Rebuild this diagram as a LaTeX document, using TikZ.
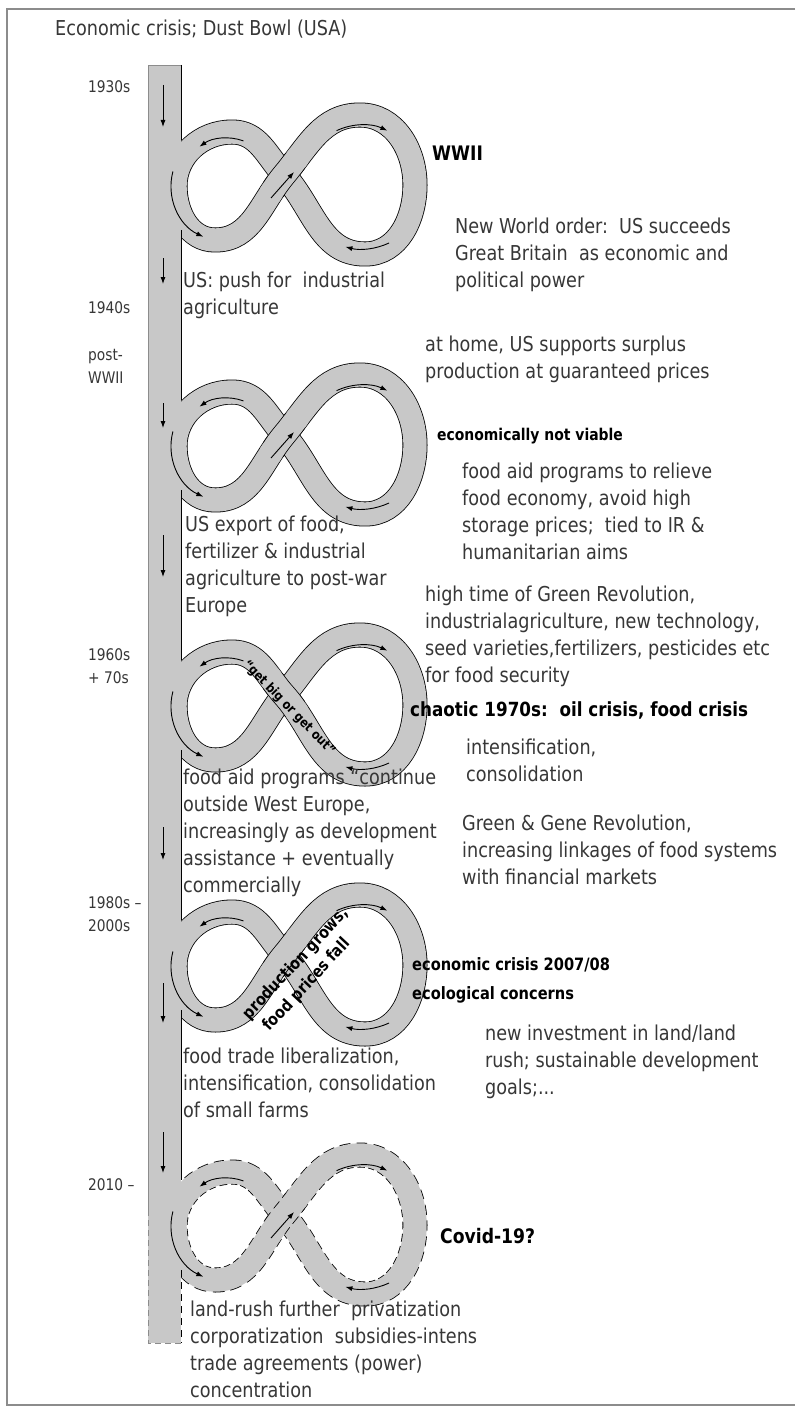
\documentclass[tikz,border=0pt]{standalone}
\usepackage{fontspec}
\setmainfont{DejaVu Sans}[FakeStretch=0.86]
\usetikzlibrary{arrows.meta}
\definecolor{bandgray}{RGB}{200,200,200}
\definecolor{framegray}{RGB}{140,140,140}
\definecolor{inkgray}{RGB}{55,55,55}

\tikzset{
  bandline/.style={line width=25pt, draw=black, line join=round},
  bandcore/.style={line width=23.4pt, draw=bandgray, line join=round},
  flow/.style={line width=0.9pt, -{Latex[length=7pt,width=5pt]}},
  eightpath/.style={insert path={
    (C) to[out=50,in=180] (RT) to[out=0,in=90] (RR) to[out=-90,in=0] (RB)
    to[out=180,in=-48] (C) to[out=132,in=0] (LT) to[out=180,in=90] (LL)
    to[out=-90,in=180] (LB) to[out=0,in=230] (C) -- cycle}},
  upstrand/.style={insert path={(LB) to[out=0,in=230] (C) to[out=50,in=180] (RT)}},
  downstrand/.style={insert path={(RB) to[out=180,in=-48] (C) to[out=132,in=0] (LT)}},
  txt/.style={anchor=base west, inner sep=0pt, align=left, text=inkgray,
    font=\fontsize{20.5}{27}\selectfont},
  yr/.style={anchor=base west, inner sep=0pt, align=left, text=inkgray,
    font=\fontsize{16}{23}\selectfont},
  hd/.style={anchor=base west, inner sep=0pt, align=left, text=black,
    font=\fontsize{17}{29}\selectfont\bfseries},
  inband/.style={inner sep=0pt, text=black, font=\fontsize{13}{15}\selectfont\bfseries},
  barline/.style={line width=1pt, draw=black},
}

% one figure eight: #1 vertical shift, #2 strand on top (up/down), #3 outline options
\newcommand{\figeight}[3]{%
  \begin{scope}[yshift=#1]
    \coordinate (C)  at (284,-175);
    \coordinate (RT) at (360,-115);
    \coordinate (RR) at (415,-185);
    \coordinate (RB) at (365,-254);
    \coordinate (LT) at (232,-132);
    \coordinate (LL) at (175,-186);
    \coordinate (LB) at (215,-240);
    \draw[bandline, #3, eightpath];
    \draw[bandcore, eightpath];
    \begin{scope}
      \clip (C) circle[radius=22];
      \draw[bandline, #3, #2strand];
    \end{scope}
    \begin{scope}
      \clip (C) circle[radius=27];
      \draw[bandcore, #2strand];
    \end{scope}
  \end{scope}}

% flow arrows running round the two lobes of a figure eight
\newcommand{\lobearrows}[1]{%
  \begin{scope}[yshift=#1]
    \coordinate (L) at (227,-186);
    \coordinate (R) at (362,-185);
    \draw[flow] ([shift={(70:48)}]L) arc[start angle=70,end angle=125,radius=48];
    \draw[flow] ([shift={(165:56)}]L) arc[start angle=165,end angle=245,radius=56];
    \draw[flow] ([shift={(115:60)}]R) arc[start angle=115,end angle=65,radius=60];
    \draw[flow] ([shift={(295:64)}]R) arc[start angle=295,end angle=255,radius=64];
  \end{scope}}

\begin{document}
\begin{tikzpicture}[x=1pt,y=1pt]
\useasboundingbox (0,0) rectangle (795,-1407);
\fill[white] (0,0) rectangle (795,-1407);

% frame
\draw[framegray, line width=1.5pt] (795,-9) -- (7,-9) -- (7,-1405) -- (795,-1405);

% figure eights, one per period
\figeight{0pt}{up}{solid}
\figeight{-260pt}{up}{solid}
\figeight{-520pt}{down}{solid}
\figeight{-780pt}{up}{solid}
\figeight{-1040pt}{up}{dash pattern=on 9pt off 5pt}

% time bar
\fill[bandgray] (148,-65) rectangle (181,-1343);
\draw[framegray, line width=0.6pt] (148,-1210) -- (148,-65) -- (181,-65);
\draw[framegray, line width=0.8pt, dash pattern=on 6pt off 4pt]
  (148,-1210) -- (148,-1343) -- (181,-1343);
\draw[barline] (181,-65) -- (181,-140);
\draw[barline] (181,-230) -- (181,-400);
\draw[barline] (181,-490) -- (181,-660);
\draw[barline] (181,-750) -- (181,-920);
\draw[barline] (181,-1010) -- (181,-1180);
\draw[barline, dash pattern=on 7pt off 5pt] (181,-1270) -- (181,-1343);

% downward arrows inside the bar
\foreach \a/\b in {85/127, 258/284, 403/428, 535/577, 827/860, 983/1023, 1132/1173}
  \draw[flow] (163,-\a) -- (163,-\b);

% arrows round the eights
\lobearrows{0pt}
\lobearrows{-260pt}
\lobearrows{-520pt}
\lobearrows{-780pt}
\lobearrows{-1040pt}
\foreach \k in {0,1,4} {
  \begin{scope}[yshift=-260*\k pt]
    \draw[flow] (271,-198) -- (294,-172);
  \end{scope}
}

% labels along the crossing strands
\node[inband, rotate=-46] (getbig) at (289,-708) {“get big or get out”};
\node[inband, rotate=47, font=\fontsize{16.5}{18}\selectfont\bfseries] (prodgrows) at (296,-964) {production grows,};
\node[inband, rotate=47, font=\fontsize{16.5}{18}\selectfont\bfseries] (pricesfall) at (307,-985) {food prices fall};

% period labels
\node[txt] (title) at (55,-36) {Economic crisis; Dust Bowl (USA)};
\node[yr] (y1930) at (88,-93) {1930s};
\node[yr] (y1940) at (88,-313) {1940s};
\node[yr] (ypost) at (88,-383) {post-\\WWII};
\node[yr] (y1960) at (88,-683) {1960s\\+ 70s};
\node[yr] (y1980) at (88,-931) {1980s –\\2000s};
\node[yr] (y2010) at (88,-1190) {2010 –};

% events and developments
\node[hd, font=\fontsize{20}{24}\selectfont\bfseries] (wwii) at (432,-161) {WWII};
\node[txt] (neworder) at (455,-287) {New World order:\ \ US succeeds\\Great Britain\ \ as economic and\\political power};
\node[txt] (push) at (183,-314) {US: push for\ \ industrial\\agriculture};
\node[txt] (athome) at (425,-378) {at home, US supports surplus\\production at guaranteed prices};
\node[hd, font=\fontsize{16.2}{20}\selectfont\bfseries] (notviable) at (437,-440) {economically not viable};
\node[txt] (foodaid) at (462,-559) {food aid programs to relieve\\food economy, avoid high\\storage prices;\ \ tied to IR \&\\humanitarian aims};
\node[txt] (export) at (185,-612) {US export of food,\\fertilizer \& industrial\\agriculture to post-war\\Europe};
\node[txt] (green) at (425,-682) {high time of Green Revolution,\\industrialagriculture, new technology,\\seed varieties,fertilizers, pesticides etc\\for food security};
\node[hd, font=\fontsize{19.5}{24}\selectfont\bfseries] (chaotic) at (410,-716) {chaotic 1970s:\ \ oil crisis, food crisis};
\node[txt] (intens) at (466,-781) {intensification,\\consolidation};
\node[txt] (continue) at (183,-892) {food aid programs “continue\\outside West Europe,\\increasingly as development\\assistance + eventually\\commercially};
\node[txt] (gene) at (462,-884) {Green \& Gene Revolution,\\increasing linkages of food systems\\with financial markets};
\node[hd] (crisis) at (412,-999) {economic crisis 2007/08\\ecological concerns};
\node[txt] (landrush) at (485,-1094) {new investment in land/land\\rush; sustainable development\\goals;...};
\node[txt] (liberal) at (183,-1117) {food trade liberalization,\\intensification, consolidation\\of small farms};
\node[hd, font=\fontsize{20}{24}\selectfont\bfseries] (covid) at (440,-1243) {Covid-19?};
\node[txt] (future) at (190,-1397) {land-rush further\ \ privatization\\corporatization\ \ subsidies-intens\\trade agreements (power)\\concentration};
\end{tikzpicture}
\end{document}
